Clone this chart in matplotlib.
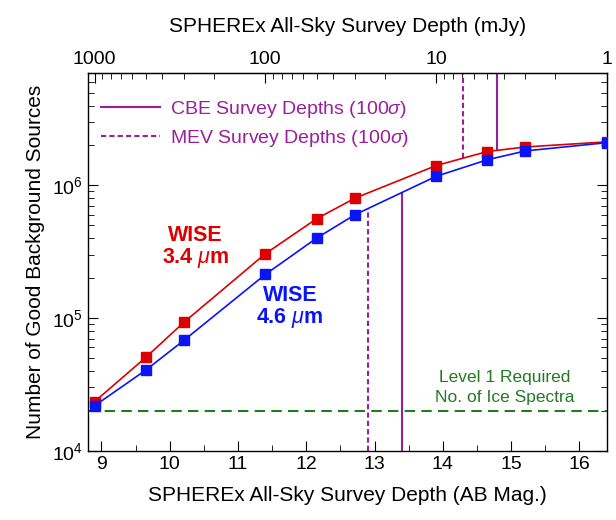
import numpy as np
import matplotlib
matplotlib.use("Agg")
import matplotlib.pyplot as plt
from matplotlib.lines import Line2D
from matplotlib.ticker import FixedLocator, FuncFormatter, MultipleLocator

plt.rcParams['font.family'] = ['Liberation Sans', 'DejaVu Sans']
plt.rcParams['mathtext.fontset'] = 'custom'
plt.rcParams['mathtext.rm'] = 'Liberation Sans'
plt.rcParams['mathtext.it'] = 'Liberation Sans:italic'
plt.rcParams['mathtext.bf'] = 'Liberation Sans:bold'

# profundidade (AB mag) dos pontos: 1000, 500, 300, 100, 50, 30, 10, 5, 3, 1 mJy
mags = [8.9, 9.65, 10.21, 11.4, 12.15, 12.71, 13.9, 14.65, 15.21, 16.4]
wise34 = [2.34e4, 5.05e4, 9.3e4, 3.05e5, 5.6e5, 8.0e5, 1.41e6, 1.80e6, 1.95e6, 2.13e6]
wise46 = [2.18e4, 4.05e4, 6.8e4, 2.13e5, 4.0e5, 6.0e5, 1.17e6, 1.56e6, 1.82e6, 2.10e6]

# profundidades do SPHEREx (linhas verticais)
cbe_mags = [13.4, 14.8]
mev_mags = [12.9, 14.3]
nivel1 = 2e4  # numero requerido de espectros

mjy_major = [1000, 100, 10, 1]
mjy_minor = [k * 10**e for e in range(0, 3) for k in range(2, 10)]

roxo = '#9a1f9c'
vermelho = '#dd0000'
azul = '#0a14f5'
verde = '#237a23'

ymin, ymax = 1e4, 7e6


def mag2mjy(m):
    return 1000 * 10**((8.9 - np.asarray(m, float)) / 2.5)


def mjy2mag(f):
    f = np.clip(np.asarray(f, float), 1e-12, None)
    return 8.9 - 2.5 * np.log10(f / 1000)


def curva(m, vals):
    # valor da curva (interpolado em log) na magnitude m
    return 10**np.interp(m, mags, np.log10(vals))


fig = plt.figure(figsize=(6.16, 5.2), dpi=100)
ax = fig.add_axes([0.1424, 0.1333, 0.8426, 0.7257])

ax.plot(mags, wise34, '-s', color=vermelho, lw=1.2, ms=7, zorder=3)
ax.plot(mags, wise46, '-s', color=azul, lw=1.2, ms=7, zorder=4)

ax.axhline(nivel1, color=verde, lw=1.5, ls=(0, (5, 3)), zorder=2)

# linhas de baixo chegam na curva azul, as de cima na curva vermelha
ax.vlines(cbe_mags[0], ymin, curva(cbe_mags[0], wise46), color=roxo, lw=1.5)
ax.vlines(mev_mags[0], ymin, curva(mev_mags[0], wise46), color=roxo, lw=1.5, ls=(0, (2.5, 1.5)))
ax.vlines(cbe_mags[1], curva(cbe_mags[1], wise34), ymax, color=roxo, lw=1.5)
ax.vlines(mev_mags[1], curva(mev_mags[1], wise34), ymax, color=roxo, lw=1.5, ls=(0, (2.5, 1.5)))

ax.set_yscale('log')
ax.set_xlim(8.8, 16.4)
ax.set_ylim(ymin, ymax)

ax.xaxis.set_major_locator(MultipleLocator(1))
ax.xaxis.set_minor_locator(MultipleLocator(0.5))
ax.tick_params(which='both', direction='in', top=False, right=True, labelsize=14)
ax.tick_params(which='major', length=7)
ax.tick_params(which='minor', length=4.5)

ax.set_xlabel('SPHEREx All-Sky Survey Depth (AB Mag.)', fontsize=15, labelpad=10)
ax.set_ylabel('Number of Good Background Sources', fontsize=15, labelpad=5)

# eixo de cima em mJy
sec = ax.secondary_xaxis('top', functions=(mag2mjy, mjy2mag))
sec.xaxis.set_major_locator(FixedLocator(mjy_major))
sec.xaxis.set_minor_locator(FixedLocator(mjy_minor))
sec.xaxis.set_major_formatter(FuncFormatter(lambda v, p: f'{v:g}'))
sec.tick_params(which='both', direction='in', labelsize=14)
sec.tick_params(which='major', length=7)
sec.tick_params(which='minor', length=4.5)
sec.set_xlabel('SPHEREx All-Sky Survey Depth (mJy)', fontsize=15, labelpad=14)

for s in list(ax.spines.values()):
    s.set_linewidth(1.0)

# textos
ax.text(10.38, 3.4e5, 'WISE\n3.4 $\\mu$m', color=vermelho, fontsize=15.5, fontweight='bold',
        ha='center', va='center', linespacing=1.0)
ax.text(11.76, 1.21e5, 'WISE\n4.6 $\\mu$m', color=azul, fontsize=15.5, fontweight='bold',
        ha='center', va='center', linespacing=1.0)
ax.text(14.9, 3.0e4, 'Level 1 Required\nNo. of Ice Spectra', color=verde, fontsize=12.5,
        ha='center', va='center', linespacing=1.35)

handles = [Line2D([], [], color=roxo, lw=1.5),
           Line2D([], [], color=roxo, lw=1.5, ls=(0, (2.5, 1.5)))]
ax.legend(handles, ['CBE Survey Depths (100$\\sigma$)', 'MEV Survey Depths (100$\\sigma$)'],
          loc='upper left', bbox_to_anchor=(0.0, 0.968), frameon=False, fontsize=14,
          labelcolor=roxo, handlelength=3.0, handletextpad=0.55, labelspacing=0.42,
          borderaxespad=0.3)

fig.savefig('out.png', dpi=100)
